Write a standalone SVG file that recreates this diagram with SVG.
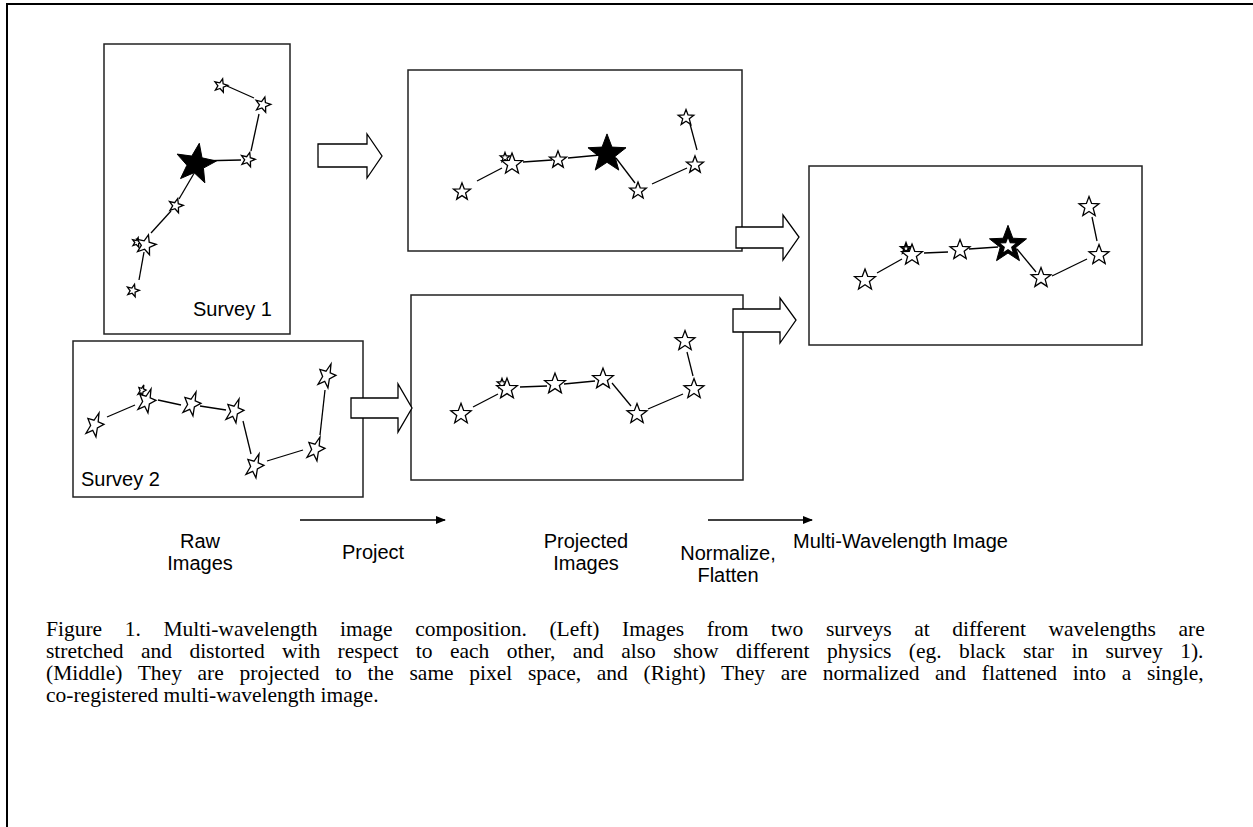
<svg xmlns="http://www.w3.org/2000/svg" width="1253" height="827" viewBox="0 0 1253 827">
<style>
.frame{fill:none;stroke:#000;stroke-width:2}
.panel{fill:#fff;stroke:#222;stroke-width:1.5}
.link{stroke:#000;stroke-width:1.3;fill:none}
.st{fill:#fff;stroke:#000;stroke-width:1.3}
.sb{fill:#000;stroke:#000;stroke-width:1}
.blk{fill:#fff;stroke:#000;stroke-width:1.3}
.lbl{font-family:"Liberation Sans",Arial,sans-serif;font-size:20px;fill:#000}
.cap{font-family:"Liberation Serif","Times New Roman",serif;font-size:21.5px;fill:#000}
.flow{stroke:#000;stroke-width:1.3;fill:none;marker-end:url(#ah)}
</style>
<defs>
<!-- unit five-pointed star, centred on its bounding box -->
<path id="star" vector-effect="non-scaling-stroke" d="M0,-0.905 L0.247,-0.245 L0.951,-0.214 L0.399,0.225 L0.588,0.904 L0,0.515 L-0.588,0.904 L-0.399,0.225 L-0.951,-0.214 L-0.247,-0.245 Z"/>
<marker id="ah" markerWidth="10" markerHeight="8" refX="9" refY="4" orient="auto" markerUnits="userSpaceOnUse"><path d="M0,0 L10,4 L0,8 Z" fill="#000"/></marker>
</defs>
<rect width="1253" height="827" fill="#fff"/>
<path class="frame" d="M7,827 V4 H1253"/>

<!-- Survey 1 raw image -->
<g id="survey1">
<rect class="panel" x="104" y="44" width="186" height="290"/>
<g class="link">
<line x1="227" y1="86" x2="254" y2="98"/>
<line x1="259" y1="114" x2="251" y2="151"/>
<line x1="196" y1="161" x2="241" y2="160"/>
<line x1="196" y1="170" x2="179" y2="199"/>
<line x1="171" y1="211" x2="151" y2="233"/>
<line x1="144" y1="252" x2="139" y2="280"/>
</g>
<use href="#star" class="st" transform="translate(221,85) rotate(15) scale(7)"/>
<use href="#star" class="st" transform="translate(263,104) rotate(15) scale(8)"/>
<use href="#star" class="st" transform="translate(248,159) rotate(15) scale(7.5)"/>
<use href="#star" class="sb" transform="translate(196,162) rotate(10) scale(21)"/>
<use href="#star" class="st" transform="translate(176,205) rotate(15) scale(7.5)"/>
<use href="#star" class="st" transform="translate(137,242) rotate(15) scale(5)"/>
<use href="#star" class="st" transform="translate(146,244) rotate(15) scale(10.5)"/>
<use href="#star" class="st" transform="translate(133,290) rotate(15) scale(6.5)"/>
<text class="lbl" x="193" y="316">Survey 1</text>
</g>

<!-- Survey 2 raw image -->
<g id="survey2">
<rect class="panel" x="73" y="341" width="290" height="156"/>
<g class="link">
<line x1="107" y1="417" x2="135" y2="405"/>
<line x1="158" y1="400" x2="181" y2="405"/>
<line x1="200" y1="406" x2="226" y2="410"/>
<line x1="243" y1="421" x2="251" y2="454"/>
<line x1="267" y1="461" x2="303" y2="450"/>
<line x1="320" y1="435" x2="325" y2="390"/>
</g>
<use href="#star" class="st" transform="translate(95,424) rotate(20) scale(9,13)"/>
<use href="#star" class="st" transform="translate(142,390) rotate(20) scale(4,6)"/>
<use href="#star" class="st" transform="translate(147,400) rotate(20) scale(9,13)"/>
<use href="#star" class="st" transform="translate(192,403) rotate(20) scale(9,13)"/>
<use href="#star" class="st" transform="translate(235,410) rotate(20) scale(9,13)"/>
<use href="#star" class="st" transform="translate(255,465) rotate(20) scale(9,13)"/>
<use href="#star" class="st" transform="translate(316,448) rotate(20) scale(9,13)"/>
<use href="#star" class="st" transform="translate(327,375) rotate(20) scale(9,13)"/>
<text class="lbl" x="81" y="486">Survey 2</text>
</g>

<!-- projected image, survey 1 -->
<g id="proj1">
<rect class="panel" x="408" y="70" width="334" height="181"/>
<g class="link">
<line x1="477" y1="181" x2="502" y2="168"/>
<line x1="523" y1="162" x2="552" y2="160"/>
<line x1="568" y1="158" x2="600" y2="155"/>
<line x1="616" y1="158" x2="635" y2="183"/>
<line x1="652" y1="184" x2="687" y2="168"/>
<line x1="690" y1="124" x2="697" y2="150"/>
</g>
<use href="#star" class="st" transform="translate(462,191) scale(9)"/>
<use href="#star" class="st" transform="translate(505,157) scale(5)"/>
<use href="#star" class="st" transform="translate(512,163) scale(11)"/>
<use href="#star" class="st" transform="translate(558,159) scale(9)"/>
<use href="#star" class="sb" transform="translate(607,152) scale(20)"/>
<use href="#star" class="st" transform="translate(638,190) scale(8.8)"/>
<use href="#star" class="st" transform="translate(695,164) scale(9)"/>
<use href="#star" class="st" transform="translate(686,117) scale(8.2)"/>
</g>

<!-- projected image, survey 2 -->
<g id="proj2">
<rect class="panel" x="411" y="295" width="332" height="185"/>
<g class="link">
<line x1="473" y1="407" x2="498" y2="394"/>
<line x1="520" y1="387" x2="547" y2="386"/>
<line x1="564" y1="384" x2="595" y2="381"/>
<line x1="612" y1="383" x2="631" y2="406"/>
<line x1="648" y1="409" x2="683" y2="394"/>
<line x1="687" y1="352" x2="693" y2="376"/>
</g>
<use href="#star" class="st" transform="translate(461,413) scale(10.7)"/>
<use href="#star" class="st" transform="translate(502,383) scale(5)"/>
<use href="#star" class="st" transform="translate(507,388) scale(10.9)"/>
<use href="#star" class="st" transform="translate(555,383) scale(10.9)"/>
<use href="#star" class="st" transform="translate(603,378) scale(10.9)"/>
<use href="#star" class="st" transform="translate(637,413) scale(10.5)"/>
<use href="#star" class="st" transform="translate(694,388) scale(10.5)"/>
<use href="#star" class="st" transform="translate(685,340) scale(10.5)"/>
</g>

<!-- combined multi-wavelength image -->
<g id="combined">
<rect class="panel" x="809" y="166" width="333" height="179"/>
<g class="link">
<line x1="877" y1="273" x2="902" y2="259"/>
<line x1="924" y1="253" x2="948" y2="252"/>
<line x1="969" y1="249" x2="998" y2="247"/>
<line x1="1017" y1="249" x2="1036" y2="272"/>
<line x1="1052" y1="276" x2="1087" y2="259"/>
<line x1="1092" y1="217" x2="1097" y2="241"/>
</g>
<use href="#star" class="st" transform="translate(865,279) scale(11)"/>
<use href="#star" class="st" style="stroke-width:2" transform="translate(906,248) scale(5)"/>
<use href="#star" class="st" transform="translate(912,254) scale(11)"/>
<use href="#star" class="st" transform="translate(960,249) scale(10.5)"/>
<use href="#star" class="sb" transform="translate(1008,243) scale(19.5)"/>
<use href="#star" class="st" transform="translate(1008,245) scale(9.5)"/>
<use href="#star" class="st" transform="translate(1041,277) scale(10.4)"/>
<use href="#star" class="st" transform="translate(1099,254) scale(10.5)"/>
<use href="#star" class="st" transform="translate(1089,206) scale(10.5)"/>
</g>

<!-- block arrows between the stages -->
<g id="connectors">
<polygon class="blk" points="318,144 367,144 367,134 382,156 367,178 367,167 318,167"/>
<polygon class="blk" points="351,398 398,398 398,384 412,408 398,432 398,418 351,418"/>
<polygon class="blk" points="736,227 783,227 783,215 799,237 783,260 783,248 736,248"/>
<polygon class="blk" points="733,309 780,309 780,298 796,320 780,343 780,332 733,332"/>
<line class="flow" x1="300" y1="520" x2="445" y2="520"/>
<line class="flow" x1="708" y1="520" x2="812" y2="520"/>
</g>

<g id="stage-labels">
<text class="lbl" x="200" y="548" text-anchor="middle">Raw</text>
<text class="lbl" x="200" y="570" text-anchor="middle">Images</text>
<text class="lbl" x="373" y="559" text-anchor="middle">Project</text>
<text class="lbl" x="586" y="548" text-anchor="middle">Projected</text>
<text class="lbl" x="586" y="570" text-anchor="middle">Images</text>
<text class="lbl" x="728" y="560" text-anchor="middle">Normalize,</text>
<text class="lbl" x="728" y="582" text-anchor="middle">Flatten</text>
<text class="lbl" x="793" y="548">Multi-Wavelength Image</text>
</g>

<!-- justified caption: extra word spacing fills each full line to x=1205 -->
<g id="caption">
<text class="cap" x="46" y="636" word-spacing="17.2">Figure 1. Multi-wavelength image composition. (Left) Images from two surveys at different wavelengths are</text>
<text class="cap" x="46" y="658" word-spacing="12">stretched and distorted with respect to each other, and also show different physics (eg. black star in survey 1).</text>
<text class="cap" x="46" y="680" word-spacing="10.3">(Middle) They are projected to the same pixel space, and (Right) They are normalized and flattened into a single,</text>
<text class="cap" x="46" y="702">co-registered multi-wavelength image.</text>
</g>
</svg>
